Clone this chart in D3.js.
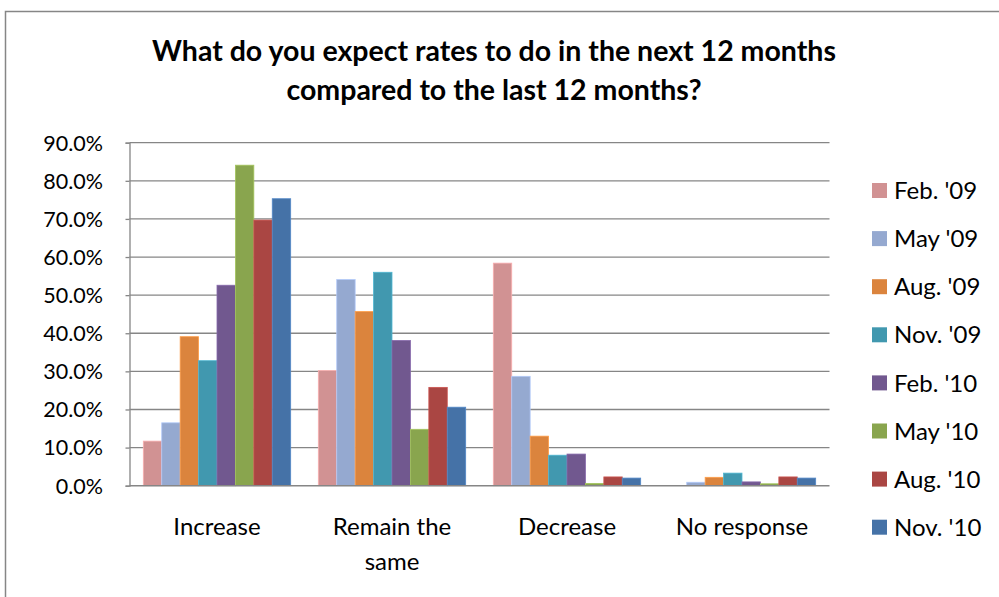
<!DOCTYPE html>
<html>
<head>
<meta charset="utf-8">
<script src="https://cdn.jsdelivr.net/npm/d3@7"></script>
<style>
  html, body { margin: 0; padding: 0; background: #fff; }
  svg { display: block; }
  text { font-family: Lato, "Open Sans", sans-serif; fill: #000; }
</style>
</head>
<body>
<svg id="chart" width="999" height="597"></svg>
<script>
// Survey responses, share of respondents per answer and survey wave
const categories = ["Increase", "Remain the same", "Decrease", "No response"];
const categoryLines = [["Increase"], ["Remain the", "same"], ["Decrease"], ["No response"]];
const seriesNames = ["Feb. '09", "May '09", "Aug. '09", "Nov. '09", "Feb. '10", "May '10", "Aug. '10", "Nov. '10"];
const seriesColors = ["#D19293", "#95A9D0", "#DB843D", "#4198AF", "#71588F", "#89A54E", "#AA4643", "#4572A7"];

const feb09 = [11.7, 30.2, 58.4, 0.0];
const may09 = [16.5, 54.1, 28.7, 0.9];
const aug09 = [39.1, 45.7, 13.0, 2.2];
const nov09 = [32.8, 56.0, 8.0, 3.3];
const feb10 = [52.6, 38.1, 8.3, 1.0];
const may10 = [84.1, 14.8, 0.6, 0.5];
const aug10 = [69.7, 25.8, 2.3, 2.3];
const nov10 = [75.3, 20.6, 2.0, 2.0];
const seriesValues = [feb09, may09, aug09, nov09, feb10, may10, aug10, nov10];

const yTicks = [0, 10, 20, 30, 40, 50, 60, 70, 80, 90];
const titleLines = ["What do you expect rates to do in the next 12 months", "compared to the last 12 months?"];

const svg = d3.select("#chart");
const gridColor = "#868686";

// chart frame
svg.append("rect")
  .attr("x", 5.5).attr("y", 11.5)
  .attr("width", 1100).attr("height", 700)
  .attr("fill", "#fff").attr("stroke", gridColor).attr("stroke-width", 1.5);

const plot = { left: 129.5, right: 829.5, top: 142.7, bottom: 485.7 };

const x0 = d3.scaleBand().domain(categories).range([plot.left, plot.right]).paddingInner(0).paddingOuter(0);
// gap between clusters equals 1.5 bar widths
const innerPad = 1.5 / (seriesNames.length + 1.5);
const x1 = d3.scaleBand().domain(seriesNames)
  .range([x0.bandwidth() * innerPad / 2, x0.bandwidth() * (1 - innerPad / 2)])
  .padding(0);
const y = d3.scaleLinear().domain([0, 90]).range([plot.bottom, plot.top]);

// horizontal gridlines
svg.append("g")
  .selectAll("line")
  .data(yTicks.filter(t => t > 0))
  .join("line")
  .attr("x1", plot.left).attr("x2", plot.right)
  .attr("y1", d => y(d)).attr("y2", d => y(d))
  .attr("stroke", gridColor).attr("stroke-width", 1.3);

// bars
const groups = svg.append("g")
  .selectAll("g")
  .data(categories)
  .join("g")
  .attr("transform", c => `translate(${x0(c)},0)`);

groups.selectAll("rect")
  .data((c, ci) => seriesNames.map((s, si) => ({ s, si, v: seriesValues[si][ci] })))
  .join("rect")
  .filter(d => d.v > 0)
  .attr("x", d => x1(d.s))
  .attr("width", x1.bandwidth())
  .attr("y", d => y(d.v))
  .attr("height", d => y(0) - y(d.v))
  .attr("fill", d => seriesColors[d.si])
  .attr("stroke", d => d3.color(seriesColors[d.si]).brighter(0.5))
  .attr("stroke-width", 0.8);

// y axis
const yAxis = svg.append("g")
  .attr("transform", `translate(${plot.left},0)`)
  .call(d3.axisLeft(y).tickValues(yTicks).tickSize(4).tickPadding(22.5)
    .tickFormat(d => d3.format(".1f")(d) + "%"));
yAxis.select(".domain").attr("stroke", gridColor).attr("stroke-width", 1.3);
yAxis.selectAll(".tick line").attr("stroke", gridColor).attr("stroke-width", 1.3);
yAxis.selectAll(".tick text")
  .attr("font-size", 21.5).attr("font-family", "Lato, sans-serif").attr("fill", "#000")
  .attr("dy", "0.34em");

// x baseline
svg.append("line")
  .attr("x1", plot.left).attr("x2", plot.right)
  .attr("y1", plot.bottom).attr("y2", plot.bottom)
  .attr("stroke", gridColor).attr("stroke-width", 1.5);

// category labels
const catLabels = svg.append("g")
  .selectAll("text")
  .data(categories)
  .join("text")
  .attr("text-anchor", "middle")
  .attr("font-size", 24)
  .attr("x", c => x0(c) + x0.bandwidth() / 2)
  .attr("y", 535);
catLabels.selectAll("tspan")
  .data((c, i) => categoryLines[i])
  .join("tspan")
  .attr("x", function () { return d3.select(this.parentNode).attr("x"); })
  .attr("dy", (d, i) => i === 0 ? 0 : 35)
  .text(d => d);

// title
svg.append("text")
  .attr("text-anchor", "middle")
  .attr("font-size", 28.5)
  .attr("font-weight", "bold")
  .selectAll("tspan")
  .data(titleLines)
  .join("tspan")
  .attr("x", 494)
  .attr("y", (d, i) => 61 + i * 38.5)
  .text(d => d);

// legend
const legend = svg.append("g")
  .selectAll("g")
  .data(seriesNames)
  .join("g")
  .attr("transform", (d, i) => `translate(872,${190.5 + i * 48.1})`);
legend.append("rect")
  .attr("x", 0).attr("y", -7.5)
  .attr("width", 15).attr("height", 15)
  .attr("fill", (d, i) => seriesColors[i]);
legend.append("text")
  .attr("x", 22).attr("y", 0).attr("dy", "0.36em")
  .attr("font-size", 24)
  .text(d => d);
</script>
</body>
</html>
